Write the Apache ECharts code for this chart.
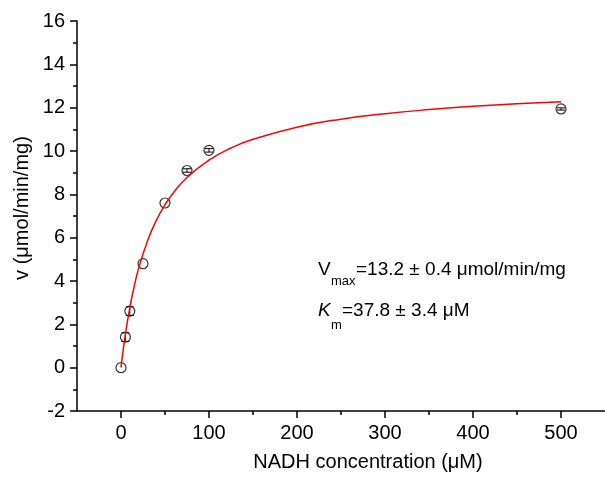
<!DOCTYPE html>
<html>
<head>
<meta charset="utf-8">
<script src="https://cdn.jsdelivr.net/npm/echarts@6/dist/echarts.min.js"></script>
<style>
  html, body { margin: 0; padding: 0; background: #fff; }
  #chart { width: 605px; height: 482px; }
</style>
</head>
<body>
<div id="chart"></div>
<script>
// measured points (NADH concentration, rate, error)
const concentration = [0, 5, 10, 25, 50, 75, 100, 500]
const rate = [0, 1.41, 2.61, 4.8, 7.6, 9.1, 10.03, 11.94]
const rateErr = [0, 0.2, 0.2, 0, 0, 0.08, 0.08, 0.05]

// red fit line
const fitX = [0, 2, 5, 10, 15, 20, 30, 40, 50, 60, 75, 100, 125, 150, 200, 250, 300, 350, 400, 450, 500]
const fitY = [0, 0.66, 1.54, 2.76, 3.75, 4.57, 5.84, 6.79, 7.52, 8.1, 8.78, 9.58, 10.14, 10.54, 11.1, 11.47, 11.72, 11.91, 12.06, 12.18, 12.27]

const xTicks = [0, 100, 200, 300, 400, 500]
const xMinorTicks = [50, 150, 250, 350, 450]

const font = "'Liberation Sans', Arial, sans-serif"
const myChart = echarts.init(document.getElementById('chart'))

const points = concentration.map((c, i) => [c, rate[i], rateErr[i]])
const fitLine = fitX.map((c, i) => [c, fitY[i]])

const option = {
  animation: false,
  grid: { left: 77, top: 21, width: 530, height: 390, containLabel: false },
  xAxis: [
    {
      type: 'value', min: -50, max: 550,
      axisLine: { show: true, onZero: false, lineStyle: { color: '#000', width: 1.5 } },
      axisTick: { show: true, length: 7, customValues: xTicks, lineStyle: { color: '#000', width: 1.5 } },
      axisLabel: { customValues: xTicks, color: '#000', fontSize: 20, fontFamily: font, margin: 12 },
      splitLine: { show: false }
    },
    {
      type: 'value', min: -50, max: 550, position: 'bottom',
      axisLine: { show: false, onZero: false },
      axisTick: { show: true, length: 4, customValues: xMinorTicks, lineStyle: { color: '#000', width: 1.5 } },
      axisLabel: { show: false, customValues: xMinorTicks },
      splitLine: { show: false }
    }
  ],
  yAxis: {
    type: 'value', min: -2, max: 16, interval: 2,
    axisLine: { show: true, onZero: false, lineStyle: { color: '#000', width: 1.5 } },
    axisTick: { show: true, length: 7, lineStyle: { color: '#000', width: 1.5 } },
    minorTick: { show: true, splitNumber: 2, length: 4, lineStyle: { color: '#000', width: 1.5 } },
    axisLabel: { color: '#000', fontSize: 20, fontFamily: font, margin: 12 },
    splitLine: { show: false }
  },
  graphic: [
    { type: 'text', rotation: Math.PI / 2, x: 22, y: 208,
      style: { text: 'v (μmol/min/mg)', font: '20px ' + font, fill: '#000', align: 'center', verticalAlign: 'middle' } },
    { type: 'text', x: 368, y: 462,
      style: { text: 'NADH concentration (μM)', font: '20px ' + font, fill: '#000', align: 'center', verticalAlign: 'middle' } },
    { type: 'text', x: 318, y: 270,
      style: { text: 'V', font: '19px ' + font, fill: '#000', align: 'left', verticalAlign: 'middle' } },
    { type: 'text', x: 331, y: 281.5,
      style: { text: 'max', font: '13px ' + font, fill: '#000', align: 'left', verticalAlign: 'middle' } },
    { type: 'text', x: 356, y: 270,
      style: { text: '=13.2 ± 0.4 μmol/min/mg', font: '19px ' + font, fill: '#000', align: 'left', verticalAlign: 'middle' } },
    { type: 'text', x: 318, y: 311,
      style: { text: 'K', font: 'italic 19px ' + font, fill: '#000', align: 'left', verticalAlign: 'middle' } },
    { type: 'text', x: 331, y: 325.5,
      style: { text: 'm', font: '13px ' + font, fill: '#000', align: 'left', verticalAlign: 'middle' } },
    { type: 'text', x: 342, y: 311,
      style: { text: '=37.8 ± 3.4 μM', font: '19px ' + font, fill: '#000', align: 'left', verticalAlign: 'middle' } }
  ],
  series: [
    {
      type: 'scatter',
      data: points,
      symbol: 'circle',
      symbolSize: 10,
      itemStyle: { color: 'rgba(0,0,0,0)', borderColor: '#000', borderWidth: 1.2 },
      z: 2
    },
    {
      type: 'custom',
      data: points,
      renderItem: function (params, api) {
        const x = api.value(0)
        const y = api.value(1)
        const e = api.value(2)
        if (!e) return null
        const top = api.coord([x, y + e])
        const bot = api.coord([x, y - e])
        const w = 4
        const style = { stroke: '#000', lineWidth: 1 }
        return {
          type: 'group',
          children: [
            { type: 'line', shape: { x1: top[0], y1: top[1], x2: bot[0], y2: bot[1] }, style },
            { type: 'line', shape: { x1: top[0] - w, y1: top[1], x2: top[0] + w, y2: top[1] }, style },
            { type: 'line', shape: { x1: bot[0] - w, y1: bot[1], x2: bot[0] + w, y2: bot[1] }, style }
          ]
        }
      },
      z: 3
    },
    {
      type: 'line',
      data: fitLine,
      smooth: true,
      showSymbol: false,
      lineStyle: { color: '#ff0000', width: 1.5 },
      z: 4
    }
  ]
}

myChart.setOption(option)
</script>
</body>
</html>
